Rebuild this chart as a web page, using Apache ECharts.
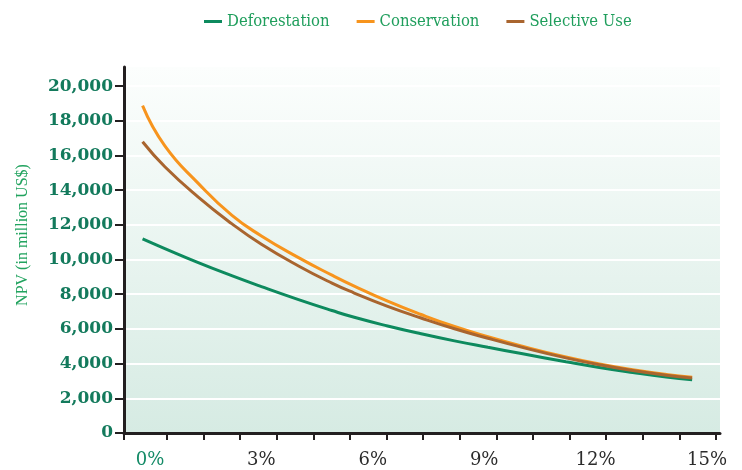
<!DOCTYPE html>
<html><head><meta charset="utf-8">
<script src="https://cdn.jsdelivr.net/npm/echarts@6/dist/echarts.min.js"></script>
<style>html,body{margin:0;padding:0;background:#fff}#c{width:742px;height:470px}</style>
</head><body><div id="c"></div>
<script>
const seriesNames = ['Deforestation', 'Conservation', 'Selective Use'];
const rates = [-0.2, 0.4, 1.3, 2.2, 3.0, 4.0, 4.9, 5.5, 6.4, 7.3, 8.2, 9.1, 10.0, 11.2, 12.1, 13.0, 13.9, 14.6];
const deforestation = [11190, 10630, 9820, 9070, 8440, 7690, 7060, 6670, 6170, 5720, 5310, 4940, 4580, 4110, 3780, 3490, 3230, 3070];
const conservation = [18870, 16550, 14390, 12560, 11360, 10110, 9100, 8470, 7600, 6830, 6140, 5550, 5020, 4380, 3980, 3650, 3380, 3220];
const selectiveUse = [16790, 15350, 13600, 12070, 10880, 9630, 8640, 8070, 7300, 6630, 6010, 5460, 4950, 4330, 3930, 3600, 3330, 3170];
const xLabelValues = [0, 3, 6, 9, 12, 15];
const xTickValues = [-1.175, 0, 1, 2, 3, 4, 5, 6, 7, 8, 9, 10, 11, 12, 13, 14, 15];
const yTickValues = [0, 2000, 4000, 6000, 8000, 10000, 12000, 14000, 16000, 18000, 20000];
const yAxisTitle = 'NPV (in million US$)';

const colors = ['#0d8a5e', '#f7941d', '#a9652f'];
const pair = (xs, ys) => xs.map((x, i) => [x, ys[i]]);
const seriesValues = [deforestation, conservation, selectiveUse];

const chart = echarts.init(document.getElementById('c'), null, { renderer: 'canvas' });
chart.setOption({
  animation: false,
  color: colors,
  legend: {
    data: seriesNames,
    left: 199, top: 8,
    icon: 'rect', itemWidth: 18, itemHeight: 3, itemGap: 27,
    textStyle: { fontFamily: 'DejaVu Serif Condensed, DejaVu Serif', fontSize: 16.5, color: '#1f9e5c' }
  },
  grid: {
    left: 124, right: 22, top: 67, bottom: 37,
    show: true, borderWidth: 0,
    backgroundColor: { type: 'linear', x: 0, y: 0, x2: 0, y2: 1,
      colorStops: [{ offset: 0, color: '#fcfefd' }, { offset: 1, color: '#d6ebe3' }] },
    outerBoundsMode: 'none'
  },
  xAxis: [
    {
      type: 'value', position: 'bottom', min: -0.70, max: 15.35,
      axisLine: { show: false }, axisTick: { show: false }, splitLine: { show: false },
      axisLabel: {
        customValues: xLabelValues, margin: 18,
        formatter: v => v + '%',
        fontFamily: 'DejaVu Serif', fontSize: 18,
        color: (v) => (Number(v) === 0 ? '#138a66' : '#2b2b2b')
      }
    },
    {
      type: 'value', position: 'bottom', min: -1.175, max: 15.11,
      axisLine: { show: true, onZero: false, lineStyle: { color: '#231f20', width: 3 } },
      axisTick: { show: true, customValues: xTickValues, length: 7, lineStyle: { color: '#231f20', width: 2 } },
      axisLabel: { show: false }, splitLine: { show: false }
    }
  ],
  yAxis: {
    type: 'value', min: 0, max: 21100, interval: 2000,
    name: yAxisTitle, nameLocation: 'middle', nameGap: 93,
    nameTextStyle: { fontFamily: 'Liberation Serif', fontSize: 16, color: '#22a35f', padding: [0, 0, 0, 30] },
    axisLine: { show: true, onZero: false, lineStyle: { color: '#231f20', width: 3 } },
    axisTick: { show: true, customValues: yTickValues, length: 9, lineStyle: { color: '#231f20', width: 2 } },
    axisLabel: {
      customValues: yTickValues, margin: 11,
      fontFamily: 'DejaVu Serif', fontSize: 17, fontWeight: 'bold', color: '#137a5c',
      formatter: v => Number(v).toLocaleString('en-US')
    },
    splitLine: { show: true, lineStyle: { color: '#ffffff', width: 2 } }
  },
  series: seriesNames.map((name, i) => ({
    name, type: 'line', xAxisIndex: 0, smooth: 0.5, showSymbol: false,
    lineStyle: { width: 3, color: colors[i] }, itemStyle: { color: colors[i] },
    data: pair(rates, seriesValues[i])
  }))
});
</script></body></html>
